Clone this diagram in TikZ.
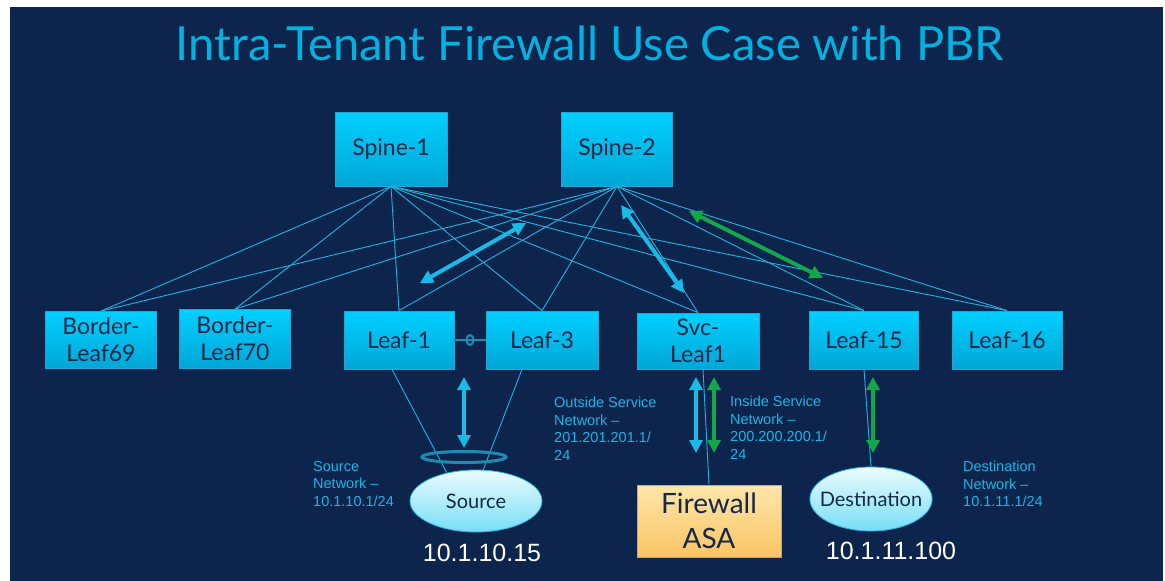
\documentclass[tikz,border=0pt]{standalone}
\usepackage{fontspec}
\setmainfont{Lato}
\newfontfamily\labelfont{Liberation Sans}
\usetikzlibrary{arrows.meta,shapes.geometric}
\definecolor{navy}{RGB}{13,37,77}
\definecolor{titlecyan}{RGB}{0,178,226}
\definecolor{boxtop}{RGB}{0,208,255}
\definecolor{boxbot}{RGB}{0,166,214}
\definecolor{boxedge}{RGB}{35,165,210}
\definecolor{boxtext}{RGB}{22,40,72}
\definecolor{linecyan}{RGB}{30,180,225}
\definecolor{arrowblue}{RGB}{25,185,232}
\definecolor{arrowgreen}{RGB}{16,168,72}
\definecolor{ringteal}{RGB}{30,140,178}
\definecolor{ellTop}{RGB}{235,252,255}
\definecolor{ellBot}{RGB}{118,222,246}
\definecolor{ellEdge}{RGB}{40,180,225}
\definecolor{fwTop}{RGB}{255,230,170}
\definecolor{fwBot}{RGB}{250,196,100}
\definecolor{fwEdge}{RGB}{232,160,60}
\definecolor{labelcyan}{RGB}{28,180,230}
\begin{document}
\begin{tikzpicture}[x=1pt,y=-1pt,
  switchbox/.style={draw=boxedge,line width=0.8pt,top color=boxtop,bottom color=boxbot,
    text=boxtext,font=\fontsize{23}{27}\selectfont,align=center,inner sep=0pt},
  hostell/.style={ellipse,draw=ellEdge,line width=0.8pt,top color=ellTop,bottom color=ellBot,
    text=boxtext,font=\fontsize{20}{24}\selectfont,inner sep=0pt},
  fwbox/.style={draw=fwEdge,line width=0.8pt,top color=fwTop,bottom color=fwBot,
    text=boxtext,font=\fontsize{28}{35}\selectfont,align=center,inner sep=0pt,
    minimum width=144pt,minimum height=72pt},
  netlabel/.style={text=labelcyan,font=\labelfont\fontsize{14.5}{17.5}\selectfont,
    align=left,anchor=north west,inner sep=0pt},
  iplabel/.style={text=white,font=\labelfont\fontsize{25}{30}\selectfont,inner sep=0pt},
  mesh/.style={draw=linecyan,line width=0.9pt},
  biarrow/.style={line width=4pt,{Triangle[length=13pt,width=13pt]}-{Triangle[length=13pt,width=13pt]}},
]
\useasboundingbox (0,0) rectangle (1165,581);
\fill[white] (0,0) rectangle (1165,581);
\fill[navy] (10,7) rectangle (1163,581);

\node[text=titlecyan,font=\fontsize{47}{52}\selectfont,inner sep=0pt] (title) at (590,43)
  {Intra-Tenant Firewall Use Case with PBR};

% switches
\node[switchbox,minimum width=112pt,minimum height=74pt] (sp1) at (391,149) {Spine-1};
\node[switchbox,minimum width=111pt,minimum height=74pt] (sp2) at (617,149) {Spine-2};
\node[switchbox,minimum width=111pt,minimum height=57pt] (bl69) at (101,340) {Border-\\Leaf69};
\node[switchbox,minimum width=111pt,minimum height=59pt] (bl70) at (235,339) {Border-\\Leaf70};
\node[switchbox,minimum width=110pt,minimum height=58pt] (l1) at (399,340) {Leaf-1};
\node[switchbox,minimum width=112pt,minimum height=58pt] (l3) at (542,340) {Leaf-3};
\node[switchbox,minimum width=122pt,minimum height=56pt] (svc) at (698,341) {Svc-\\Leaf1};
\node[switchbox,minimum width=109pt,minimum height=58pt] (l15) at (864,340) {Leaf-15};
\node[switchbox,minimum width=110pt,minimum height=58pt] (l16) at (1007,340) {Leaf-16};

% hosts
\node[hostell,minimum width=132pt,minimum height=62pt] (src) at (476,501) {Source};
\node[hostell,inner xsep=-8pt,minimum width=117pt,minimum height=64pt] (dst) at (871,499) {Destination};
\node[fwbox] (fw) at (709,521) {Firewall\\ASA};

% mesh
\foreach \s in {sp1,sp2}{
  \foreach \l in {bl69,bl70,l1,l3,svc,l15,l16}{
    \draw[mesh] (\s.south) -- (\l.north);
  }
}
\draw[mesh] ([xshift=-7pt]l1.south) -- (src.136);
\draw[mesh] ([xshift=-20pt]l3.south) -- (src.77);
\draw[mesh] ([xshift=5pt]svc.south) -- (fw.north);
\draw[mesh] (l15.south) -- (dst.north);

% vPC link
\draw[ringteal,line width=1.5pt] (l1.east) -- (l3.west);
\node[draw=ringteal,line width=2pt,ellipse,minimum width=7pt,minimum height=10pt,inner sep=0pt] (vpc) at (470,340) {};
\node[draw=ringteal,line width=3pt,ellipse,minimum width=84pt,minimum height=11pt,inner sep=0pt] (ring) at (464,457) {};

% arrows
\coordinate (a1s) at (420,283); \coordinate (a1e) at (526,223);
\coordinate (a2s) at (621,205); \coordinate (a2e) at (684,293);
\coordinate (a3s) at (689,211); \coordinate (a3e) at (823,278);
\coordinate (a4s) at (464,377); \coordinate (a4e) at (464,448);
\coordinate (a5s) at (696,377); \coordinate (a5e) at (696,453);
\coordinate (a6s) at (714,377); \coordinate (a6e) at (714,453);
\coordinate (a7s) at (873,377); \coordinate (a7e) at (873,453);
\draw[biarrow,arrowblue] (a1s) -- (a1e);
\draw[biarrow,arrowblue] (a2s) -- (a2e);
\draw[biarrow,arrowgreen] (a3s) -- (a3e);
\draw[biarrow,arrowblue] (a4s) -- (a4e);
\draw[biarrow,arrowblue] (a5s) -- (a5e);
\draw[biarrow,arrowgreen] (a6s) -- (a6e);
\draw[biarrow,arrowgreen] (a7s) -- (a7e);

% labels
\node[netlabel] (srcnet) at (313,461) {Source\\Network –\\10.1.10.1/24};
\node[netlabel] (outnet) at (554,397) {Outside Service\\Network –\\201.201.201.1/\\24};
\node[netlabel] (innet) at (730,396) {Inside Service\\Network –\\200.200.200.1/\\24};
\node[netlabel] (dstnet) at (963,461) {Destination\\Network –\\10.1.11.1/24};
\node[iplabel] (srcip) at (482,553) {10.1.10.15};
\node[iplabel] (dstip) at (891,551) {10.1.11.100};
\end{tikzpicture}
\end{document}
